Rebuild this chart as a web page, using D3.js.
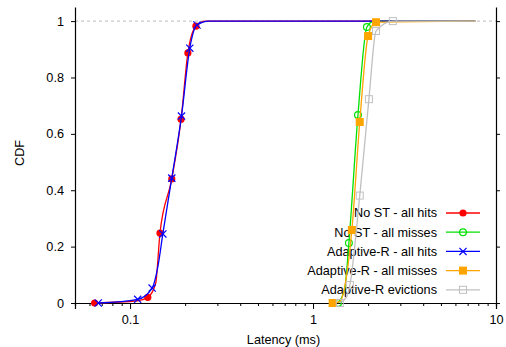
<!DOCTYPE html>
<html><head><meta charset="utf-8">
<script src="https://cdn.jsdelivr.net/npm/d3@7/dist/d3.min.js"></script>
<style>body{margin:0;background:#fff}svg text{font-family:"Liberation Sans",Arial,sans-serif;font-size:12.7px;fill:#000}</style>
</head><body><svg id="c" width="506" height="347"></svg>
<script>
const xTicks = [0.1, 1, 10];
const xTickLabels = ["0.1", "1", "10"];
const yTicks = [0, 0.2, 0.4, 0.6, 0.8, 1];
const yTickLabels = ["0", "0.2", "0.4", "0.6", "0.8", "1"];

const seriesNames = ["No ST - all hits", "No ST - all misses", "Adaptive-R - all hits", "Adaptive-R - all misses", "Adaptive-R evictions"];

const noStHitsLat = [0.064, 0.110, 0.125, 0.138, 0.1457, 0.169, 0.190, 0.207, 0.229, 0.26, 7.7];
const noStHitsCdf = [0, 0.008, 0.02, 0.07, 0.248, 0.44, 0.652, 0.887, 0.982, 1.0, 1.0];
const noStHitsMarks = [0, 2, 4, 5, 6, 7, 8];

const noStMissLat = [1.37, 1.49, 1.57, 1.76, 1.97, 2.15, 7.7];
const noStMissCdf = [0, 0.05, 0.213, 0.667, 0.979, 1.0, 1.0];
const noStMissMarks = [0, 2, 3, 4];

const adHitsLat = [0.067, 0.110, 0.132, 0.142, 0.151, 0.169, 0.191, 0.212, 0.232, 0.27, 7.7];
const adHitsCdf = [0, 0.013, 0.053, 0.13, 0.245, 0.443, 0.663, 0.904, 0.986, 1.0, 1.0];
const adHitsMarks = [0, 1, 2, 4, 5, 6, 7, 8];

const adMissLat = [1.28, 1.40, 1.52, 1.63, 1.80, 2.0, 2.21, 7.7];
const adMissCdf = [0, 0.005, 0.09, 0.259, 0.642, 0.947, 0.996, 1.0];
const adMissMarks = [0, 3, 4, 5, 6];

const evictLat = [1.40, 1.52, 1.59, 1.80, 2.02, 2.21, 2.73, 7.7];
const evictCdf = [0, 0.02, 0.064, 0.381, 0.723, 0.965, 1.0, 1.0];
const evictMarks = [0, 2, 3, 4, 5, 6];

const colors = ["#ff0000", "#00e000", "#0000ff", "#ffa500", "#c0c0c0"];
const shapes = ["circleFill", "circleOpen", "cross", "squareFill", "squareOpen"];

const series = [
  {lat: noStHitsLat, cdf: noStHitsCdf, marks: noStHitsMarks},
  {lat: noStMissLat, cdf: noStMissCdf, marks: noStMissMarks},
  {lat: adHitsLat, cdf: adHitsCdf, marks: adHitsMarks},
  {lat: adMissLat, cdf: adMissCdf, marks: adMissMarks},
  {lat: evictLat, cdf: evictCdf, marks: evictMarks}
].map((s, i) => ({...s, name: seriesNames[i], color: colors[i], shape: shapes[i],
  pts: s.lat.map((v, j) => [v, s.cdf[j]])}));

const svg = d3.select("#c");
const L = 75, R = 496, T = 7, B = 303;
const FS = 12.7;
const x = d3.scaleLog().domain([0.05, 10]).range([L, R]);
const y = d3.scaleLinear().domain([0, 1.05]).range([B, T]);

// dashed reference line at 1
svg.append("line").attr("x1", L).attr("x2", R).attr("y1", y(1)).attr("y2", y(1))
  .attr("stroke", "#bbbbbb").attr("stroke-width", 1).attr("stroke-dasharray", "3,3");

// axes
const minor = [];
for (let d = 0.01; d < 10; d *= 10) for (let k = 2; k <= 9; k++) { const v = d * k; if (v >= 0.05 && v <= 10) minor.push(v); }
const gx = svg.append("g").attr("transform", `translate(0,${B})`);
gx.call(d3.axisBottom(x).tickValues(minor).tickSize(3).tickFormat(""));
gx.append("g").call(d3.axisBottom(x).tickValues(xTicks).tickSize(6).tickFormat((d, i) => xTickLabels[i]).tickPadding(6));
gx.selectAll(".domain").attr("stroke", "#000").attr("stroke-width", 1.2);
gx.selectAll("text").attr("font-size", FS).attr("fill", "#000");

const gy = svg.append("g").attr("transform", `translate(${L},0)`);
gy.call(d3.axisLeft(y).tickValues(yTicks).tickSize(4).tickPadding(7).tickFormat((d, i) => yTickLabels[i]).tickSizeOuter(0));
gy.selectAll("text").attr("font-size", FS).attr("fill", "#000");
gy.select(".domain").attr("stroke-width", 1.2);

const gr = svg.append("g").attr("transform", `translate(${R},0)`);
gr.call(d3.axisRight(y).tickValues(yTicks).tickSize(4).tickFormat("").tickSizeOuter(0));
gr.select(".domain").attr("stroke-width", 1.2);

// axis titles
svg.append("text").attr("x", (L + R) / 2 - 2).attr("y", 344).attr("text-anchor", "middle").text("Latency (ms)");
svg.append("text").attr("transform", "translate(24,153) rotate(-90)").attr("text-anchor", "middle").text("CDF");

function marker(g, shape, color, cx, cy) {
  if (shape === "circleFill") g.append("circle").attr("cx", cx).attr("cy", cy).attr("r", 3.6).attr("fill", color);
  else if (shape === "circleOpen") g.append("circle").attr("cx", cx).attr("cy", cy).attr("r", 3.4).attr("fill", "none").attr("stroke", color).attr("stroke-width", 1.2);
  else if (shape === "cross") g.append("path").attr("d", `M${cx-3.6},${cy-3.6}L${cx+3.6},${cy+3.6}M${cx-3.6},${cy+3.6}L${cx+3.6},${cy-3.6}`).attr("stroke", color).attr("stroke-width", 1.2);
  else if (shape === "squareFill") g.append("rect").attr("x", cx - 4).attr("y", cy - 4).attr("width", 8).attr("height", 8).attr("fill", color);
  else if (shape === "squareOpen") g.append("rect").attr("x", cx - 3.5).attr("y", cy - 3.5).attr("width", 7).attr("height", 7).attr("fill", "none").attr("stroke", color).attr("stroke-width", 1);
}

// legend
const legTop = 213, legStep = 19.2;
const lg = svg.append("g");
series.forEach((s, i) => {
  const yy = legTop + i * legStep;
  lg.append("text").attr("x", 437).attr("y", yy).attr("dy", "0.35em").attr("text-anchor", "end").text(s.name);
  lg.append("line").attr("x1", 446).attr("x2", 480).attr("y1", yy).attr("y2", yy).attr("stroke", s.color).attr("stroke-width", 1.3);
  marker(lg, s.shape, s.color, 463, yy);
});

// data
const line = d3.line().x(d => x(d[0])).y(d => y(d[1])).curve(d3.curveMonotoneX);
series.forEach(s => {
  const g = svg.append("g");
  g.append("path").attr("d", line(s.pts)).attr("fill", "none").attr("stroke", s.color).attr("stroke-width", 1.3);
  s.marks.forEach(j => marker(g, s.shape, s.color, x(s.pts[j][0]), y(s.pts[j][1])));
});
</script></body></html>
